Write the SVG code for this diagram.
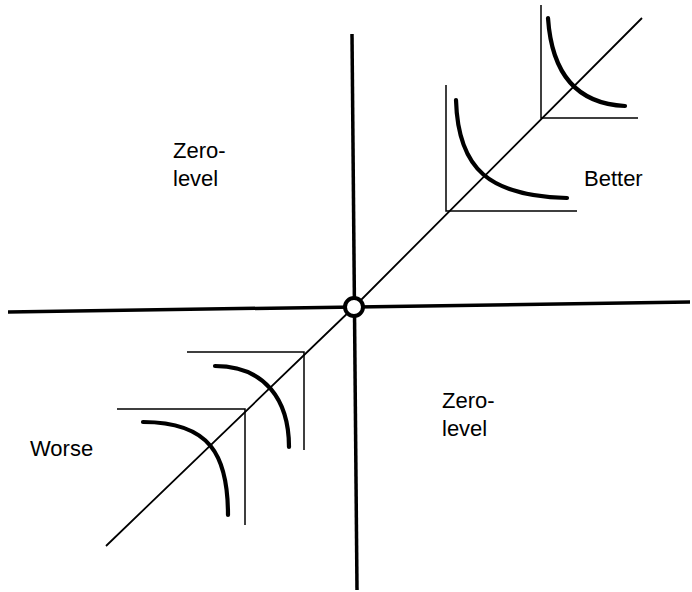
<svg xmlns="http://www.w3.org/2000/svg" width="692" height="592" viewBox="0 0 692 592">
<style>
.axis{stroke:#000;stroke-width:3.5;fill:none}
.diag{stroke:#000;stroke-width:1.8;fill:none}
.thin{stroke:#000;stroke-width:1.5;fill:none}
.curve{stroke:#000;stroke-width:4.2;fill:none;stroke-linecap:round}
.lbl{font-family:"Liberation Sans",Arial,sans-serif;font-size:22px;fill:#000}
</style>
<rect width="692" height="592" fill="#fff"/>
<g id="connectors">
<line class="axis" x1="352" y1="34" x2="357" y2="590"/>
<line class="axis" x1="8" y1="312" x2="690" y2="302"/>
<polyline class="diag" points="106,546 354,307 642,18"/>
</g>
<g id="better-small">
<polyline class="thin" points="541,5 541,118 638,118"/>
<path class="curve" d="M548,18 C552,78 580,104 625,106"/>
</g>
<g id="better-large">
<polyline class="thin" points="446,85 446,211 577,211"/>
<path class="curve" d="M456,100 C458,170 490,196 567,198"/>
</g>
<g id="worse-small">
<polyline class="thin" points="187,352 304,352 304,450"/>
<path class="curve" d="M215,366 C265,366 289,400 289,447"/>
</g>
<g id="worse-large">
<polyline class="thin" points="117,409 245,409 245,525"/>
<path class="curve" d="M143,422 C210,422 228,455 228,515"/>
</g>
<g id="origin">
<circle cx="354" cy="307" r="9" fill="#fff" stroke="#000" stroke-width="4"/>
</g>
<g id="label-zero-upper">
<text class="lbl" x="173" y="158">Zero-</text>
<text class="lbl" x="173" y="186">level</text>
</g>
<g id="label-better">
<text class="lbl" x="584" y="186">Better</text>
</g>
<g id="label-zero-lower">
<text class="lbl" x="442" y="408">Zero-</text>
<text class="lbl" x="442" y="436">level</text>
</g>
<g id="label-worse">
<text class="lbl" x="30" y="456">Worse</text>
</g>
</svg>
